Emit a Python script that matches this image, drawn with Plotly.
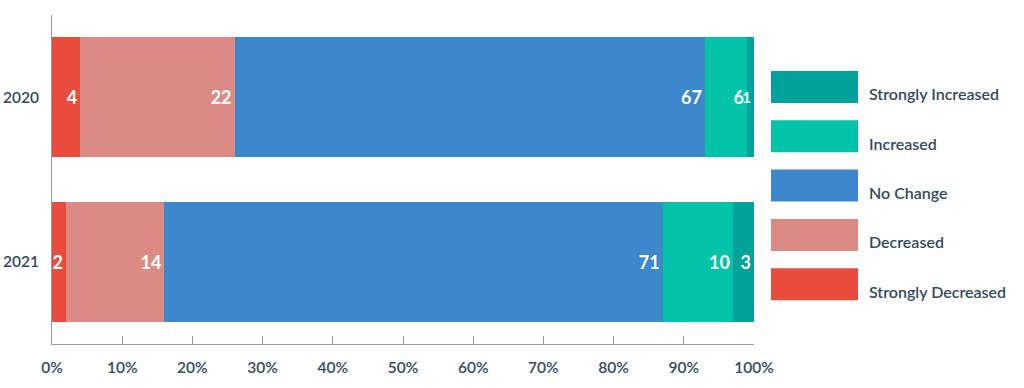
import plotly.graph_objects as go

years = ["2020", "2021"]
series_names = ["Strongly Decreased", "Decreased", "No Change", "Increased", "Strongly Increased"]
strongly_decreased = [4, 2]
decreased = [22, 14]
no_change = [67, 71]
increased = [6, 10]
strongly_increased = [1, 3]
tick_vals = [0, 10, 20, 30, 40, 50, 60, 70, 80, 90, 100]
tick_text = ["0%", "10%", "20%", "30%", "40%", "50%", "60%", "70%", "80%", "90%", "100%"]

colors = ["#e84c3d", "#db8a84", "#3d87cb", "#00c3a8", "#00a29a"]
values = [strongly_decreased, decreased, no_change, increased, strongly_increased]

FONT = "Lato"
TEXT_COLOR = "#34495e"

fig = go.Figure()
for name, vals, col in zip(series_names, values, colors):
    # shrink labels that sit in very thin segments so they do not collide
    sizes = [15 if v < 2 else 18 for v in vals]
    fig.add_trace(go.Bar(
        y=years, x=vals, name=name, orientation="h",
        marker=dict(color=col, line=dict(width=0)),
        text=[str(v) for v in vals],
        textposition="inside", insidetextanchor="end",
        constraintext="none", textangle=0,
        textfont=dict(family=FONT, size=sizes, color="white", weight=700),
        showlegend=False,
        hoverinfo="x+name",
    ))

L, R, T, B = 52, 270, 15, 44
W, H = 1024, 388
pw = W - L - R
ph = H - T - B

def px_to_paper_x(px):
    return (px - L) / pw

def px_to_paper_y(py):
    return (H - B - py) / ph

# custom legend (top to bottom: reverse of series order)
shapes = []
annotations = []
for i, (name, col) in enumerate(zip(series_names[::-1], colors[::-1])):
    top = 71 + i * 49.3
    bot = top + 32
    shapes.append(dict(type="rect", xref="paper", yref="paper",
                       x0=px_to_paper_x(771), x1=px_to_paper_x(858),
                       y0=px_to_paper_y(bot), y1=px_to_paper_y(top),
                       fillcolor=col, line=dict(width=0)))
    annotations.append(dict(xref="paper", yref="paper", x=px_to_paper_x(867),
                            y=px_to_paper_y(top + 23), xanchor="left", yanchor="middle",
                            text=name, showarrow=False,
                            font=dict(family=FONT, size=16, color=TEXT_COLOR, weight=600)))

fig.update_layout(
    barmode="stack",
    bargap=0.27,
    width=W, height=H,
    margin=dict(l=L, r=R, t=T, b=B, pad=0, autoexpand=False),
    plot_bgcolor="white", paper_bgcolor="white",
    shapes=shapes, annotations=annotations,
    xaxis=dict(range=[0, 100], tickvals=tick_vals, ticktext=tick_text,
               showgrid=False, zeroline=False, automargin=False,
               showline=True, linecolor="#9a9a9a", linewidth=1,
               ticks="inside", ticklen=8, tickcolor="#9a9a9a",
               ticklabelstandoff=9,
               tickfont=dict(family=FONT, size=15.5, color=TEXT_COLOR, weight=600),
               fixedrange=True),
    yaxis=dict(autorange="reversed", showgrid=False, zeroline=False, automargin=False,
               showline=True, linecolor="#9a9a9a", linewidth=1,
               ticks="", ticklabelstandoff=9,
               tickfont=dict(family=FONT, size=15.5, color=TEXT_COLOR, weight=600),
               fixedrange=True),
)

fig.write_html("out.html")
